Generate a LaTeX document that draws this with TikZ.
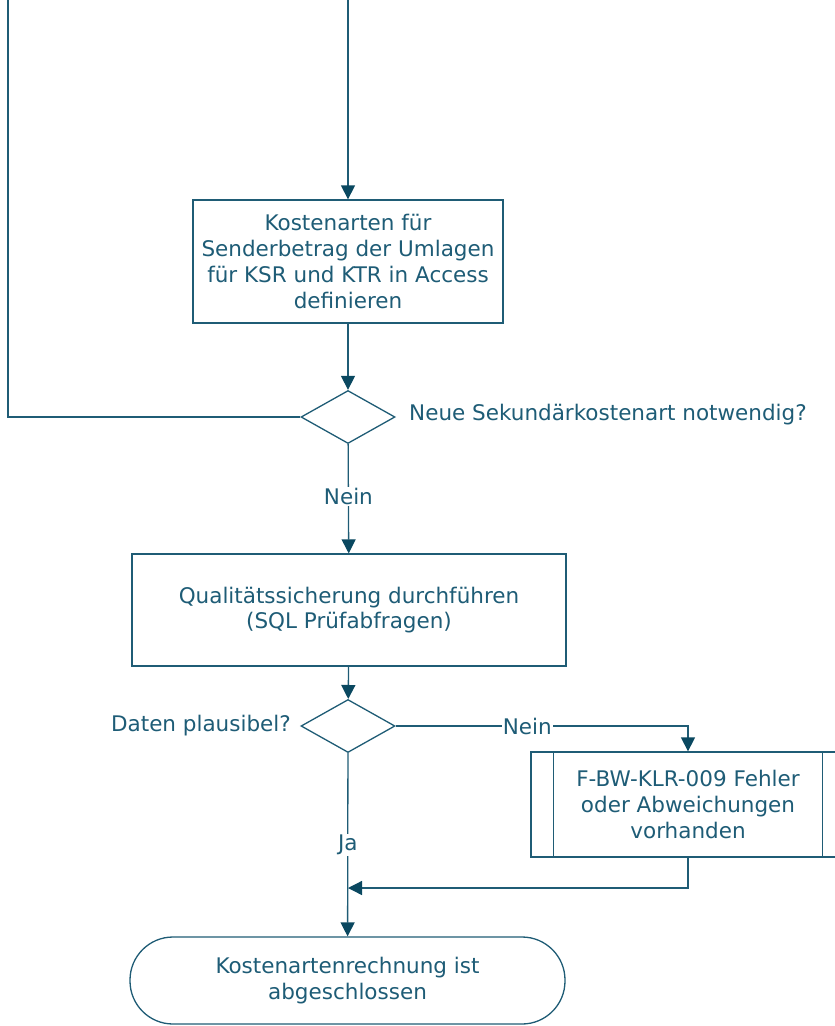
\documentclass[tikz,border=0pt]{standalone}
\usepackage{fontspec}
\setmainfont{DejaVu Sans}
\usetikzlibrary{arrows.meta,shapes.geometric}
\definecolor{flowline}{RGB}{31,92,117}
\definecolor{flowtext}{RGB}{30,92,118}
\definecolor{flowhead}{RGB}{10,72,96}
\tikzset{
  flow/.style={draw=flowline, line width=1.3pt},
  arr/.style={flow, -{Triangle[length=14pt,width=14pt,color=flowhead]}},
  box/.style={flow, rectangle, align=center, text=flowtext, inner sep=0pt},
  decision/.style={flow, diamond, inner sep=0pt, minimum width=94pt, minimum height=53pt},
  lbl/.style={text=flowtext, inner sep=1pt},
  every node/.style={font=\fontsize{21.5}{25.7}\selectfont}
}
\begin{document}
\begin{tikzpicture}[x=1pt,y=-1pt]
      \useasboundingbox (0,0) rectangle (835,1026);
      \coordinate (topL) at (8,0);
      \coordinate (topR) at (348,0);
      \node[box, minimum width=310pt, minimum height=123pt] (kdef) at (348,261.5)
        {Kostenarten für\\Senderbetrag der Umlagen\\für KSR und KTR in Access\\definieren};
      \node[decision] (q1) at (348,417) {};
      \node[lbl, anchor=west] (q1t) at (408,415) {Neue Sekundärkostenart notwendig?};
      \node[box, minimum width=434pt, minimum height=112pt] (qs) at (349,610)
        {Qualitätssicherung durchführen\\(SQL Prüfabfragen)};
      \node[decision] (q2) at (348,726) {};
      \node[lbl, anchor=east] (q2t) at (292,726) {Daten plausibel?};
      \node[box, minimum width=314pt, minimum height=105pt] (err) at (688,804.5)
        {F-BW-KLR-009 Fehler\\oder Abweichungen\\vorhanden};
      \draw[flow] ([xshift=23pt]err.north west) -- ([xshift=23pt]err.south west);
      \draw[flow] ([xshift=-23pt]err.north east) -- ([xshift=-23pt]err.south east);
      \node[box, rounded corners=43pt, minimum width=435pt, minimum height=87pt] (done) at (347.5,980.5)
        {Kostenartenrechnung ist\\abgeschlossen};
      \coordinate (join) at (348,888);
      \begin{scope}
        \draw[flow] (q1.west) -| (topL);
        \draw[arr] (topR) -- (kdef);
        \draw[arr] (kdef) -- (q1);
        \draw[arr] (q1) -- node[lbl, fill=white, pos=0.48] {Nein} (qs);
        \draw[arr] (qs) -- (q2);
        \draw[arr] (q2.east) -- node[lbl, fill=white, pos=0.45] {Nein} (688,726) -- (err);
        \draw[arr] (err) |- (join);
        \draw[arr] (q2) -- node[lbl, fill=white, pos=0.5] {Ja} (done);
      \end{scope}
    \end{tikzpicture}
\end{document}
